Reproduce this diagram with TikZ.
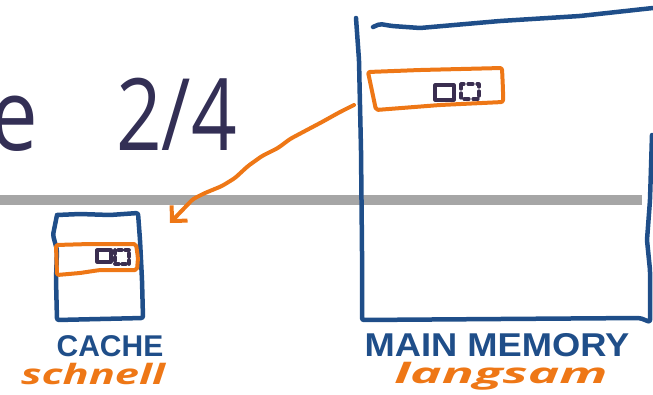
\documentclass[tikz,border=0pt]{standalone}
\usepackage{fontspec}
\setmainfont{Open Sans}
\newfontfamily\labelfont{Liberation Sans}
\usetikzlibrary{arrows.meta,positioning,calc}
\definecolor{cTitle}{HTML}{332F55}
\definecolor{cBlue}{HTML}{1F4E89}
\definecolor{cOrange}{HTML}{EE7716}
\definecolor{cRule}{HTML}{A6A6A6}
\definecolor{cInk}{HTML}{3A2E50}

\begin{document}
\begin{tikzpicture}[
  x=1pt, y=-1pt,
  blue pen/.style={draw=cBlue, line width=4.5pt, line cap=round, line join=round,
                   rounded corners=2pt},
  orange pen/.style={draw=cOrange, line width=4pt, line cap=round, line join=round,
                     rounded corners=2pt},
  ink pen/.style={draw=cInk, line width=3.2pt, line cap=round, line join=round},
  ttl/.style={font=\fontsize{100}{100}\selectfont, text=cTitle, inner sep=0pt},
  caps/.style={font=\labelfont\bfseries\fontsize{#1}{#1}\selectfont, text=cBlue,
               inner sep=0pt, text depth=0pt},
  hand/.style={font=\bfseries\itshape\fontsize{28}{28}\selectfont, text=cOrange,
               inner sep=0pt},
]
\useasboundingbox (0,0) rectangle (653,394);
\clip (0,0) rectangle (653,394);

% ---------------- title and rule ----------------
\node[ttl, anchor=base east] (ttlE) at (38,150) {\scalebox{0.85}[1]{e}};
\node[ttl, anchor=base west] (ttlNum) at (116,150) {\scalebox{0.8}[1]{2/4}};
\fill[cRule] (0,195) rectangle (642,205);

% ---------------- cache ----------------
\draw[blue pen] (57,215) -- (80,214) -- (110,215) -- (138,213) -- (140,240)
  -- (142,280) -- (143,318) -- (100,319) -- (57,320) -- (56,280) -- (57,250)
  -- (53,235) -- (57,215);
\draw[orange pen] (56,245) -- (90,244) -- (136,244) -- (138,258) -- (137,270)
  -- (100,270) -- (80,273) -- (57,275) -- cycle;
\draw[ink pen] (97,250) rectangle (111,262);
\draw[ink pen, dash pattern=on 4pt off 3pt] (115,250) rectangle (129,264);
\coordinate (cacheIn) at (170,223);

% ---------------- main memory ----------------
\draw[blue pen] (356,18) -- (359,60) -- (361,150) -- (362,250) -- (362,320)
  -- (500,319) -- (640,318) -- (650,322) -- (650,270) -- (647,240) -- (650,200)
  -- (652,135);
\draw[blue pen] (373,27) -- (380,24) -- (392,26) -- (420,28) -- (500,21)
  -- (580,16) -- (653,8);
\draw[orange pen] (368,72) -- (420,70) -- (502,68) -- (503,90) -- (503,102)
  -- (440,105) -- (376,110) -- cycle;
\draw[ink pen] (435,85) rectangle (454,100);
\draw[ink pen, dash pattern=on 5pt off 4pt] (461,84) rectangle (479,99);
\coordinate (memOut) at (354,105);

% ---------------- copy arrow ----------------
\draw[orange pen, rounded corners=3pt, -{Straight Barb[length=11pt,width=22pt]}]
  (memOut) -- (340,112) -- (322,122) -- (305,131) -- (290,139) -- (278,148)
  -- (262,156) -- (248,166) -- (235,178) -- (222,186) -- (205,193)
  -- (193,199) -- (cacheIn);

% ---------------- labels ----------------
\node[caps=30] (lblCache) at (110,346) {CACHE};
\node[hand] (lblFast) at (93,374) {\scalebox{1.55}[1]{schnell}};
\node[caps=33] (lblMem) at (497,345) {\scalebox{1.1}[1]{MAIN MEMORY}};
\node[hand] (lblSlow) at (501,376) {\scalebox{1.9}[1]{langsam}};
\end{tikzpicture}
\end{document}
